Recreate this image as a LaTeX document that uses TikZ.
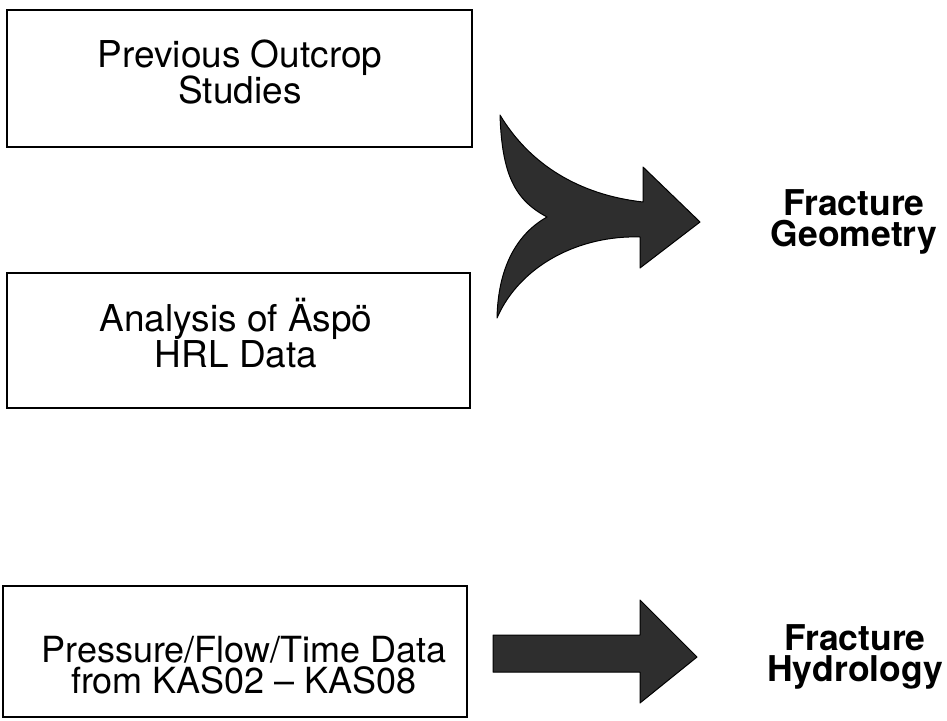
\documentclass[tikz,border=0pt]{standalone}
\usepackage{fontspec}
\setmainfont{TeX Gyre Heros}
\begin{document}
\begin{tikzpicture}[x=1pt,y=-1pt,
  srcbox/.style={draw=black,line width=1.3pt,rectangle,inner sep=0pt},
  boxtext/.style={align=center,inner sep=0pt,font=\fontsize{37}{36}\selectfont},
  boxtextb/.style={align=center,inner sep=0pt,font=\fontsize{36}{30.5}\selectfont},
  resulttext/.style={align=center,inner sep=0pt,font=\fontsize{35.5}{31}\selectfont\bfseries},
  fatarrow/.style={fill=black!82,draw=black,line width=1pt,line join=round}]
\useasboundingbox (0,0) rectangle (947,720);
% boxes
\node[srcbox,minimum width=465pt,minimum height=137pt] (b1) at (239.5,78.5) {};
\node[srcbox,minimum width=463pt,minimum height=135pt] (b2) at (238.5,340.5) {};
\node[srcbox,minimum width=464pt,minimum height=131pt] (b3) at (235,651.5) {};
% texts (anchor base = baseline of the last line)
\node[boxtext,anchor=base] (t1) at (240,103) {Previous Outcrop\\Studies};
\node[boxtext,anchor=base] (t2) at (236,367) {Analysis of Äspö\\HRL Data};
\node[boxtextb,anchor=base] (t3) at (244,693) {Pressure/Flow/Time Data\\from KAS02 -- KAS08};
\node[resulttext,anchor=base] (g) at (854,246) {Fracture\\Geometry};
\node[resulttext,anchor=base] (h) at (855,681) {Fracture\\Hydrology};
% curved merging arrow
\coordinate (T) at (500,115);
\coordinate (N) at (547,217);
\coordinate (B) at (497,318);
\draw[fatarrow] (T) .. controls (530,165) and (580,195) .. (643,202)
  -- (643,167) -- (700,222) -- (640,268) -- (640,237)
  .. controls (580,235) and (520,265) .. (B)
  .. controls (498,270) and (515,235) .. (N)
  .. controls (515,200) and (502,175) .. (T) -- cycle;
% straight arrow
\draw[fatarrow] (493,635) -- (640,635) -- (640,600) -- (697,657) -- (640,703) -- (640,672) -- (493,672) -- cycle;
\end{tikzpicture}
\end{document}
